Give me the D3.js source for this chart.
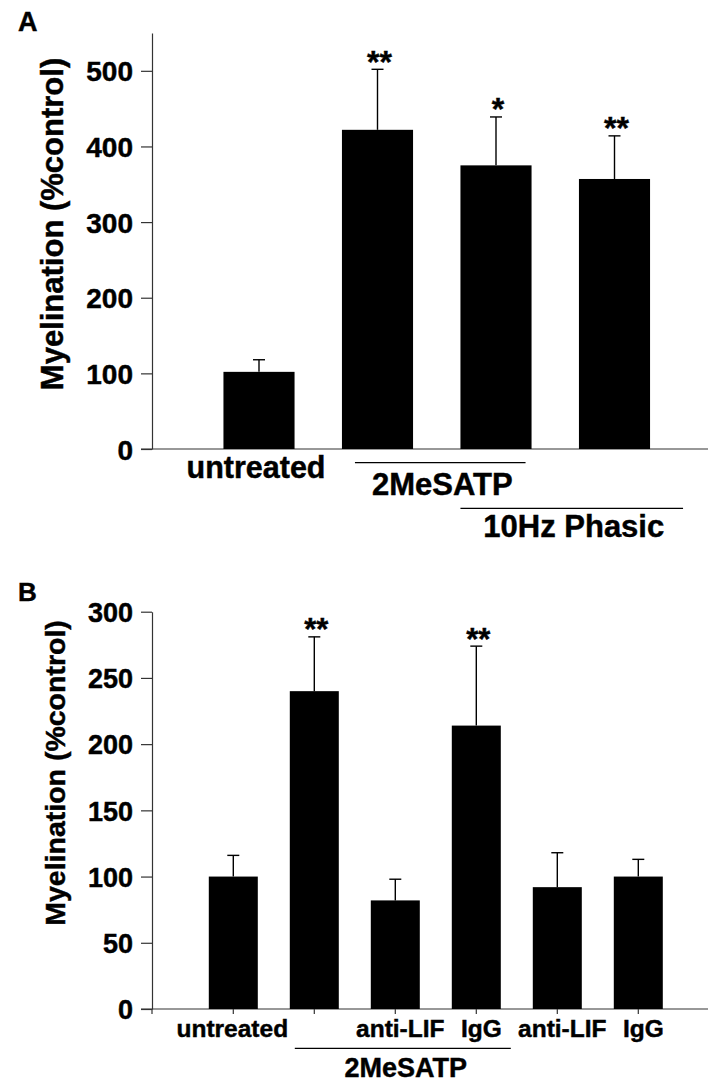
<!DOCTYPE html>
<html>
<head>
<meta charset="utf-8">
<script src="https://cdn.jsdelivr.net/npm/d3@7"></script>
<style>
  html, body { margin: 0; padding: 0; background: #fff; }
  svg text { font-family: "Liberation Sans", Arial, Helvetica, sans-serif; font-weight: bold; fill: #000; stroke: #000; stroke-width: 0.45px; }
</style>
</head>
<body>
<svg id="chart" width="710" height="1087"></svg>
<script>
// ---------- Panel A data ----------
const categoriesA = ["untreated", "2MeSATP", "2MeSATP + 10Hz Phasic", "10Hz Phasic"];
const valuesA = [102, 422, 375, 357];
const errorsA = [16, 80, 64, 57];
const sigA = ["", "**", "*", "**"];
const ticksA = [0, 100, 200, 300, 400, 500];
const axisLabels = ["untreated"];
const groupsA = [
  { label: "2MeSATP", from: "2MeSATP", to: "2MeSATP + 10Hz Phasic" },
  { label: "10Hz Phasic", from: "2MeSATP + 10Hz Phasic", to: "10Hz Phasic" }
];

// ---------- Panel B data ----------
const categoriesB = ["untreated", "2MeSATP", "2MeSATP + anti-LIF", "2MeSATP + IgG", "anti-LIF", "IgG"];
const tickLabelsB = ["untreated", "", "anti-LIF", "IgG", "anti-LIF", "IgG"];
const valuesB = [100, 240, 82, 214, 92, 100];
const errorsB = [16, 41, 16, 60, 26, 13];
const sigB = ["", "**", "", "**", "", ""];
const ticksB = [0, 50, 100, 150, 200, 250, 300];
const groupsB = [
  { label: "2MeSATP", from: "2MeSATP", to: "2MeSATP + IgG" }
];
const yTitle = "Myelination (%control)";

const svg = d3.select("#chart");
const AXIS_COLOR = "#333";

function panel(cfg) {
  const g = svg.append("g");
  const { x, y } = cfg;

  // y axis
  const yAxis = d3.axisLeft(y).tickValues(cfg.ticks).tickSize(11).tickSizeOuter(0).tickPadding(8);
  const ya = g.append("g").attr("transform", `translate(${cfg.axisX},0)`).call(yAxis);
  ya.select(".domain").attr("stroke", AXIS_COLOR).attr("stroke-width", 1.2);
  ya.selectAll(".tick line").attr("stroke", AXIS_COLOR).attr("stroke-width", 1.2);
  ya.selectAll(".tick text")
    .style("font-size", cfg.tickFont + "px")
    .attr("dy", "0.36em")
    .attr("fill", "#000");

  // baseline (x axis)
  const y0 = y(0);
  g.append("line")
    .attr("x1", cfg.axisX - 11).attr("x2", 708)
    .attr("y1", y0).attr("y2", y0)
    .attr("stroke", AXIS_COLOR).attr("stroke-width", 1.2);

  // bars
  const bw = x.bandwidth();
  g.selectAll("rect.bar").data(cfg.cats).enter().append("rect")
    .attr("class", "bar")
    .attr("x", d => x(d))
    .attr("width", bw)
    .attr("y", (d, i) => y(cfg.values[i]))
    .attr("height", (d, i) => y0 - y(cfg.values[i]))
    .attr("fill", "#000");

  // error bars
  const eb = g.selectAll("g.err").data(cfg.cats).enter().append("g").attr("class", "err");
  eb.append("line")
    .attr("x1", d => x(d) + bw / 2).attr("x2", d => x(d) + bw / 2)
    .attr("y1", (d, i) => y(cfg.values[i]))
    .attr("y2", (d, i) => y(cfg.values[i] + cfg.errors[i]))
    .attr("stroke", "#000").attr("stroke-width", 1.4);
  eb.append("line")
    .attr("x1", d => x(d) + bw / 2 - 6).attr("x2", d => x(d) + bw / 2 + 6)
    .attr("y1", (d, i) => y(cfg.values[i] + cfg.errors[i]))
    .attr("y2", (d, i) => y(cfg.values[i] + cfg.errors[i]))
    .attr("stroke", "#000").attr("stroke-width", 1.4);

  // significance stars
  g.selectAll("text.sig").data(cfg.cats).enter().append("text")
    .attr("class", "sig")
    .attr("x", d => x(d) + bw / 2 + 2)
    .attr("y", (d, i) => y(cfg.values[i] + cfg.errors[i]) + 3.5)
    .attr("text-anchor", "middle")
    .style("font-size", cfg.starFont + "px")
    .text((d, i) => cfg.sig[i]);

  // y title
  g.append("text")
    .attr("transform", `translate(${cfg.titleX},${cfg.titleY}) rotate(-90)`)
    .attr("text-anchor", "middle")
    .style("font-size", cfg.titleFont + "px")
    .text(yTitle);

  // panel letter
  g.append("text")
    .attr("x", 18).attr("y", cfg.letterY)
    .style("font-size", cfg.letterFont + "px")
    .text(cfg.letter);

  return g;
}

// ---------- Panel A ----------
const xA = d3.scaleBand().domain(categoriesA).range([199.75, 673.75]).paddingInner(0.4).paddingOuter(0.2);
const yA = d3.scaleLinear().domain([0, 550]).range([449, 33]);
const gA = panel({
  cats: categoriesA, values: valuesA, errors: errorsA, sig: sigA, ticks: ticksA,
  x: xA, y: yA, axisX: 152, tickFont: 28, starFont: 32,
  titleX: 63, titleY: 224, titleFont: 31, letter: "A", letterY: 31, letterFont: 27
});
// category label
gA.append("text")
  .attr("x", xA(categoriesA[0]) + xA.bandwidth() / 2 - 3)
  .attr("y", 478)
  .attr("text-anchor", "middle")
  .style("font-size", "30.5px")
  .text(axisLabels[0]);
// group lines A
const bwA = xA.bandwidth();
const grpGeomA = [
  { x1: g => xA(g.from) + 13, x2: g => xA(g.to) + bwA - 6, ly: 462.7, ty: 495 },
  { x1: g => xA(g.from), x2: g => xA(g.to) + bwA + 33, ly: 508.3, ty: 536.5 }
];
groupsA.forEach((grp, i) => {
  const geo = grpGeomA[i];
  const x1 = geo.x1(grp), x2 = geo.x2(grp);
  gA.append("line").attr("x1", x1).attr("x2", x2).attr("y1", geo.ly).attr("y2", geo.ly)
    .attr("stroke", "#000").attr("stroke-width", 1.3);
  gA.append("text").attr("x", (x1 + x2) / 2 + 2).attr("y", geo.ty)
    .attr("text-anchor", "middle").style("font-size", "31px").text(grp.label);
});

// ---------- Panel B ----------
const xB = d3.scaleBand().domain(categoriesB).range([192.8, 678.8]).paddingInner(0.395).paddingOuter(0.1975);
const yB = d3.scaleLinear().domain([0, 300]).range([1009, 611.7]);
const gB = panel({
  cats: categoriesB, values: valuesB, errors: errorsB, sig: sigB, ticks: ticksB,
  x: xB, y: yB, axisX: 152, tickFont: 27, starFont: 31,
  titleX: 65, titleY: 773, titleFont: 28.5, letter: "B", letterY: 601, letterFont: 26
});
// x axis ticks + labels
const xAxisB = d3.axisBottom(xB).tickSize(5).tickSizeOuter(0).tickPadding(6)
  .tickFormat((d, i) => tickLabelsB[i]);
const xa = gB.append("g").attr("transform", `translate(0,${yB(0)})`).call(xAxisB);
xa.select(".domain").remove();
xa.selectAll(".tick line").attr("stroke", AXIS_COLOR).attr("stroke-width", 1.2);
xa.selectAll(".tick text")
  .style("font-size", "24.5px")
  .attr("fill", "#000")
  .attr("dx", (d, i) => i === 0 ? -1 : 5);
// tick at origin
gB.append("line").attr("x1", 152).attr("x2", 152).attr("y1", yB(0)).attr("y2", yB(0) + 5)
  .attr("stroke", AXIS_COLOR).attr("stroke-width", 1.2);
// group line B
const bwB = xB.bandwidth();
groupsB.forEach(grp => {
  const x1 = xB(grp.from) + 5, x2 = xB(grp.to) + bwB + 10;
  gB.append("line").attr("x1", x1).attr("x2", x2).attr("y1", 1048.3).attr("y2", 1048.3)
    .attr("stroke", "#000").attr("stroke-width", 1.3);
  gB.append("text").attr("x", (x1 + x2) / 2 + 3).attr("y", 1076.5)
    .attr("text-anchor", "middle").style("font-size", "27px").text(grp.label);
});
</script>
</body>
</html>
